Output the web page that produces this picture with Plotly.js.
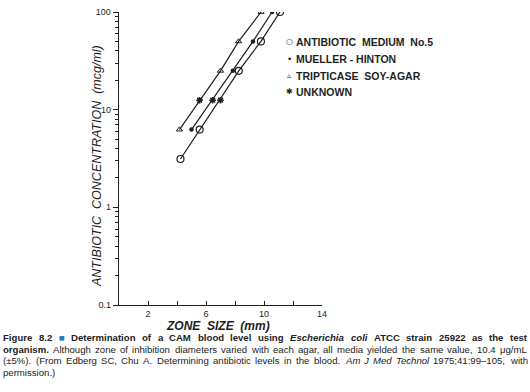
<!DOCTYPE html>
<html><head><meta charset="utf-8">
<script src="https://cdn.plot.ly/plotly-3.0.1.min.js"></script>
<style>body{margin:0;background:#fff}#chart{width:530px;height:392px}</style>
</head><body><div id="chart"></div>
<script>
// Data (zone size in mm, concentration in mcg/ml)
const seriesNames = ["ANTIBIOTIC  MEDIUM  No.5", "MUELLER - HINTON", "TRIPTICASE  SOY-AGAR", "UNKNOWN"];
const antibioticX = [4.24, 5.56, 8.26, 9.79, 11.1];
const antibioticY = [3.125, 6.25, 25, 50, 100];
const muellerX = [5.0, 7.85, 9.24, 10.56];
const muellerY = [6.25, 25, 50, 100];
const tripticaseX = [4.17, 7.0, 8.25, 9.8];
const tripticaseY = [6.25, 25, 50, 100];
const unknownX = [5.56, 6.46, 7.0];
const unknownY = [12.5, 12.5, 12.5];
const xTickVals = [2, 4, 6, 8, 10, 12, 14];
const xTickText = ["2", "", "6", "", "10", "", "14"];
const yTickVals = [0.1, 1, 10, 100];
const yTickText = ["0.1", "1", "10", "100"];

const ink = "#1e1e1e";
const FAM = "Liberation Sans, Arial, sans-serif";
const lineStyle = {color: ink, width: 1.2};

// plot area in pixels
const PL = 119, PW = 203, PB = 305, PH = 293;
const px2x = p => (p - PL) / PW;
const py2y = p => (PB - p) / PH;

const minorY = [];
[0.1, 1, 10].forEach(d => { for (let k = 2; k <= 9; k++) minorY.push(d * k); });

const traces = [
  {x: antibioticX, y: antibioticY, mode: "lines+markers", line: lineStyle,
   marker: {symbol: "circle-open", size: 7, color: ink, line: {width: 1.2, color: ink}}, name: seriesNames[0]},
  {x: muellerX, y: muellerY, mode: "lines+markers", line: lineStyle,
   marker: {symbol: "circle", size: 4.5, color: ink}, name: seriesNames[1]},
  {x: tripticaseX, y: tripticaseY, mode: "lines+markers", line: lineStyle,
   marker: {symbol: "triangle-up-open", size: 5.5, color: ink, line: {width: 1, color: ink}}, name: seriesNames[2]},
  {x: unknownX, y: unknownY, mode: "markers",
   marker: {symbol: "asterisk-open", size: 5.5, color: ink, line: {width: 1.5, color: ink}}, name: seriesNames[3]}
];

// legend drawn as text
const legendSymbols = ["○", "•", "▵", "✱"];
const legendRows = [42, 58.5, 75.5, 92];
const legendAnn = [];
seriesNames.forEach((n, i) => {
  legendAnn.push({xref: "paper", yref: "paper", x: px2x(289), y: py2y(legendRows[i]),
    xanchor: "center", yanchor: "middle", showarrow: false, text: legendSymbols[i],
    font: {family: "DejaVu Sans, sans-serif", size: i === 1 ? 9 : 8, color: ink}});
  legendAnn.push({xref: "paper", yref: "paper", x: px2x(294), y: py2y(legendRows[i]),
    xanchor: "left", yanchor: "middle", showarrow: false, align: "left",
    text: "<b>" + n + "</b>", font: {family: FAM, size: 10.5, color: ink}});
});

// caption, justified word by word
const capSize = 9.6;
const blue = "#2b7bbd";
const captionLines = [
  [["Figure 8.2", "b"], ["■", "b", blue], ["Determination of a CAM blood level using", "b"], ["Escherichia coli", "bi"], ["ATCC strain 25922 as the test", "b"]],
  [["organism.", "b"], ["Although zone of inhibition diameters varied with each agar, all media yielded the same value, 10.4 μg/mL", ""]],
  [["(±5%). (From Edberg SC, Chu A. Determining antibiotic levels in the blood.", ""], ["Am J Med Technol", "i"], ["1975;41:99–105, with", ""]],
  [["permission.)", ""]]
];
const ctx = document.createElement("canvas").getContext("2d");
const capAnn = [];
captionLines.forEach((segs, li) => {
  const words = [];
  segs.forEach(([t, st, col]) => t.split(" ").forEach(w => words.push({w, st, col})));
  words.forEach(o => {
    ctx.font = (o.st.includes("i") ? "italic " : "") + (o.st.includes("b") ? "bold " : "") + capSize + "px 'Liberation Sans'";
    o.width = ctx.measureText(o.w).width;
  });
  const total = words.reduce((s, o) => s + o.width, 0);
  const last = li === captionLines.length - 1;
  const gap = last ? ctx.measureText(" ").width : (524 - total) / (words.length - 1);
  let cx = 3;
  words.forEach(o => {
    let t = o.w;
    if (o.st.includes("i")) t = "<i>" + t + "</i>";
    if (o.st.includes("b")) t = "<b>" + t + "</b>";
    if (o.col) t = "<span style='color:" + o.col + "'>" + t + "</span>";
    capAnn.push({xref: "paper", yref: "paper", x: px2x(cx - 1), y: py2y(338 + li * 11.4),
      xanchor: "left", yanchor: "middle", showarrow: false, text: t, borderpad: 0,
      font: {family: FAM, size: capSize, color: "#222"}});
    cx += o.width + gap;
  });
});

const axisAnn = [
  {xref: "paper", yref: "paper", x: px2x(218), y: py2y(325.5), xanchor: "center", yanchor: "middle",
   showarrow: false, borderpad: 0, text: "<b>ZONE  SIZE  (mm)</b>", font: {family: FAM, size: 12, color: ink, style: "italic"}},
  {xref: "paper", yref: "paper", x: px2x(97), y: py2y(166), xanchor: "center", yanchor: "middle",
   textangle: -90, showarrow: false, text: "ANTIBIOTIC  CONCENTRATION  (mcg/ml)",
   font: {family: FAM, size: 12.5, color: ink, style: "italic"}}
];

const layout = {
  width: 530, height: 392,
  margin: {l: PL, r: 530 - PL - PW, t: 12, b: 392 - PB},
  paper_bgcolor: "#fff", plot_bgcolor: "#fff",
  showlegend: false,
  xaxis: {range: [0, 14], tickmode: "array", tickvals: xTickVals, ticktext: xTickText,
    ticks: "inside", ticklen: 4, tickwidth: 1, tickcolor: ink,
    showline: true, linecolor: ink, linewidth: 1.3, showgrid: false, zeroline: false,
    tickfont: {family: FAM, size: 9, color: ink}},
  yaxis: {type: "log", range: [-1, 2], tickmode: "array", tickvals: yTickVals, ticktext: yTickText,
    ticks: "outside", ticklen: 5, tickwidth: 1, tickcolor: ink,
    minor: {tickmode: "array", tickvals: minorY, ticks: "outside", ticklen: 3, tickcolor: ink, showgrid: false},
    showline: true, linecolor: ink, linewidth: 1.3, showgrid: false, zeroline: false,
    tickfont: {family: FAM, size: 9, color: ink}},
  annotations: [...legendAnn, ...axisAnn, ...capAnn]
};

Plotly.newPlot("chart", traces, layout, {displayModeBar: false, staticPlot: true});
</script></body></html>
